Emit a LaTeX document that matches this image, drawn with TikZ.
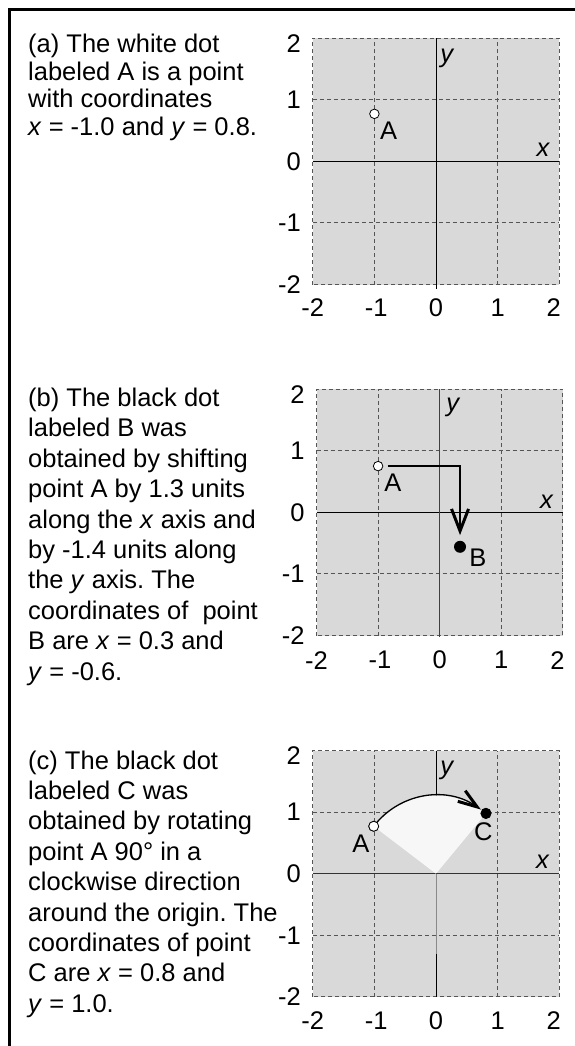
\documentclass[tikz,border=0pt]{standalone}
\usepackage{fontspec}
\setmainfont{Liberation Sans}
\usetikzlibrary{arrows.meta}
\frenchspacing
\definecolor{gridbg}{HTML}{D9D9D9}
\definecolor{gridln}{HTML}{555555}
\definecolor{sectcol}{HTML}{F7F7F7}
\definecolor{axgray}{HTML}{8A8A8A}
\newcommand\myfs{\fontsize{25.5}{30}\selectfont\frenchspacing}
\newcommand\mygrid{%
  \fill[gridbg] (-2,-2) rectangle (2,2);
  \foreach \v in {-1,1} {
    \draw[gridline] (\v,-2) -- (\v,2);
    \draw[gridline] (-2,\v) -- (2,\v);
  }
  \draw[gridline] (-2,-2) rectangle (2,2);
}
\newcommand\myticks[2]{%
  \node[tick,anchor=east] (#1y2) at (-2.19,1.91) {2};
  \node[tick,anchor=east] (#1y1) at (-2.19,1) {1};
  \node[tick,anchor=east] (#1y0) at (-2.19,0) {0};
  \node[tick,anchor=east] (#1ym1) at (-2.19,-1) {-1};
  \node[tick,anchor=east] (#1ym2) at (-2.19,-2) {-2};
  \node[tick] (#1xm2) at (-2,#2) {-2};
  \node[tick] (#1xm1) at (-0.97,#2) {-1};
  \node[tick] (#1x0) at (0,#2) {0};
  \node[tick] (#1x1) at (1,#2) {1};
  \node[tick] (#1x2) at (1.91,#2) {2};
}
\begin{document}
\begin{tikzpicture}[x=1pt,y=-1pt,
  txt/.style={anchor=base west, inner sep=0pt, font=\myfs},
  tick/.style={inner sep=0pt, font=\myfs},
  lab/.style={inner sep=0pt, font=\myfs},
  ilab/.style={inner sep=0pt, font=\myfs\itshape},
  gridline/.style={draw=gridln, line width=0.9pt, dash pattern=on 4pt off 3pt},
  axis/.style={draw=black, line width=1pt},
  wdot/.style={circle, draw=black, fill=white, line width=0.8pt, minimum size=9.5pt, inner sep=0pt},
  bdot/.style={circle, fill=black, minimum size=12pt, inner sep=0pt},
  cdot/.style={circle, fill=black, minimum size=11pt, inner sep=0pt},
  shiftarrow/.style={line width=2.6pt, -{Straight Barb[length=22pt,width=17pt,line width=3pt]}},
  rotarrow/.style={line width=1.3pt, -{Straight Barb[length=19pt,width=13pt,line width=3pt]}},
  frame/.style={line width=2.6pt, line join=miter}]
\useasboundingbox (0,0) rectangle (575,1046);
\draw[frame] (580,9.7) -- (9.7,9.7) -- (9.7,1050);

% ---------- text (a)
\node[txt] (ta1) at (28,52.3) {(a) The white dot};
\node[txt] (ta2) at (28,80.1) {labeled A is a point};
\node[txt] (ta3) at (28,107.9) {with coordinates};
\node[txt] (ta4) at (28,135.7) {\textit{x} = -1.0 and \textit{y} = 0.8.};

% ---------- text (b)
\node[txt] (tb1) at (28,406.5) {(b) The black dot};
\node[txt] (tb2) at (28,436.9) {labeled B was};
\node[txt] (tb3) at (28,467.3) {obtained by shifting};
\node[txt] (tb4) at (28,497.7) {point A by 1.3 units};
\node[txt] (tb5) at (28,528.1) {along the \textit{x} axis and};
\node[txt] (tb6) at (28,558.5) {by -1.4 units along};
\node[txt] (tb7) at (28,588.9) {the \textit{y} axis. The};
\node[txt] (tb8) at (28,619.3) {coordinates of\ \ point};
\node[txt] (tb9) at (28,649.7) {B are \textit{x} = 0.3 and};
\node[txt] (tb10) at (28,680.1) {\textit{y} = -0.6.};

% ---------- text (c)
\node[txt] (tc1) at (28,769) {(c) The black dot};
\node[txt] (tc2) at (28,799.4) {labeled C was};
\node[txt] (tc3) at (28,829.8) {obtained by rotating};
\node[txt] (tc4) at (28,860.2) {point A 90° in a};
\node[txt] (tc5) at (28,890.6) {clockwise direction};
\node[txt] (tc6) at (28,921) {around the origin. The};
\node[txt] (tc7) at (28,951.4) {coordinates of point};
\node[txt] (tc8) at (28,981.8) {C are \textit{x} = 0.8 and};
\node[txt] (tc9) at (28,1012.2) {\textit{y} = 1.0.};

% ---------- panel (a)
\begin{scope}[shift={(436,161.3)}, x=61.6pt, y=61.6pt]
  \mygrid
  \draw[axis] (-2,0) -- (2,0);
  \draw[axis] (0,2) -- (0,-2.08);
  \myticks{a}{-2.37}
  \node[ilab] (ay) at (0.174,1.67) {y};
  \node[ilab] (ax) at (1.737,0.183) {x};
  \node[wdot] (Aa) at (-1,0.77) {};
  \node[lab] (Aal) at (-0.77,0.49) {A};
\end{scope}

% ---------- panel (b)
\begin{scope}[shift={(439.7,512.3)}, x=61.6pt, y=61.6pt]
  \mygrid
  \draw[axis] (-2,0) -- (2,0);
  \draw[axis, draw=black!75] (0,2) -- (0,-2.02);
  \myticks{b}{-2.4}
  \node[ilab] (by) at (0.21,1.71) {y};
  \node[ilab] (bx) at (1.735,0.17) {x};
  \node[wdot] (Ab) at (-1,0.75) {};
  \node[bdot] (Bb) at (0.33,-0.56) {};
  \draw[shiftarrow, shorten <=4.5pt, shorten >=5.5pt] (Ab.east) -| (Bb.north);
  \node[lab] (Abl) at (-0.76,0.475) {A};
  \node[lab] (Bbl) at (0.62,-0.74) {B};
\end{scope}

% ---------- panel (c)
\begin{scope}[shift={(436,873.7)}, x=61.6pt, y=61.6pt]
  \mygrid
  \draw[axis, draw=black!80] (-2,0) -- (2,0);
  \draw[axis] (0,2) -- (0,0);
  \draw[axis, draw=axgray] (0,0) -- (0,-1.3);
  \draw[axis] (0,-1.3) -- (0,-2);
  \myticks{c}{-2.38}
  \node[ilab] (cy) at (0.174,1.68) {y};
  \node[ilab] (cx) at (1.73,0.195) {x};
  \coordinate (O) at (0,0);
  \node[wdot, minimum size=10pt] (Ac) at (142.7:1.271) {};
  \node[cdot] (Cc) at (50.4:1.271) {};
  \fill[sectcol] (O) -- (Ac.center) arc[start angle=142.7, end angle=50.4, radius=1.271] -- cycle;
  \draw[rotarrow] (Ac.center) arc[start angle=142.7, end angle=55, radius=1.271];
  \node[wdot, minimum size=10pt] (Ac2) at (Ac) {};
  \node[cdot] (Cc2) at (Cc) {};
  \node[lab] (Acl) at (-1.22,0.49) {A};
  \node[lab] (Ccl) at (0.77,0.68) {C};
\end{scope}
\end{tikzpicture}
\end{document}
